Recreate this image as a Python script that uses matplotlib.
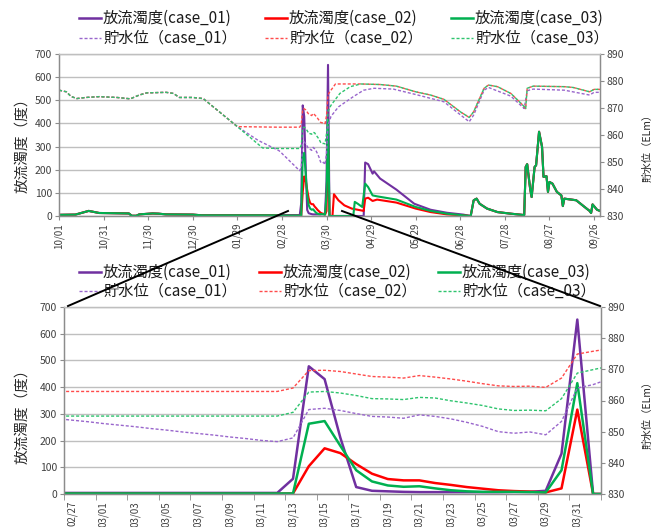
import pandas as pd
import matplotlib
matplotlib.use('Agg')
import matplotlib.pyplot as plt
from matplotlib.lines import Line2D

plt.rcParams['font.family'] = ['Noto Sans CJK JP', 'DejaVu Sans']

W, H = 667, 527
START = pd.Timestamp(2014, 10, 1)

# ---- 放流濁度, 10/01-02/25 (the three cases are practically the same)
early_turb_dates = ['10/01', '10/12', '10/21', '10/28', '11/17', '11/19', '11/22', '11/24',
                    '12/03', '12/07', '12/12', '12/30', '01/05', '02/25']
early_turb = [5, 6, 22, 13, 11, 1, 1, 7, 11, 10, 7, 6, 3, 3]

# ---- 貯水位, common part 10/01-01/29
early_wl_dates = ['10/01', '10/06', '10/09', '10/13', '10/19', '10/28', '11/09', '11/18',
                  '11/24', '11/29', '12/12', '12/17', '12/21', '12/30', '01/06', '01/29']
early_wl = [876.6, 876.0, 874.3, 873.5, 873.9, 874.2, 873.9, 873.4,
            874.8, 875.6, 875.8, 875.4, 873.9, 873.9, 873.5, 863.1]
wl01_early_dates = ['02/12']
wl01_early = [858.0]
wl02_early_dates = ['02/25']
wl02_early = [862.9]
wl03_early_dates = ['02/15', '02/25']
wl03_early = [855.2, 855.0]

# ---- daily values 02/26-04/02 (zoomed panel)
zoom_dates = list(pd.date_range('2015-02-26', '2015-04-02').strftime('%m/%d'))
turb01_zoom = [4, 4, 4, 4, 4, 4, 4, 4, 4, 4, 4, 4, 4, 4, 4,
               57, 478, 430, 210, 26, 12, 10, 8, 7, 7, 7, 7, 7, 7, 8, 8, 12, 151, 653, 0, 0]
turb02_zoom = [1, 1, 1, 1, 1, 1, 1, 1, 1, 1, 1, 1, 1, 1, 1,
               2, 104, 171, 153, 112, 76, 56, 51, 51, 41, 34, 26, 20, 14, 11, 9, 6, 21, 316, 0, 0]
turb03_zoom = [2, 2, 2, 2, 2, 2, 2, 2, 2, 2, 2, 2, 2, 2, 2,
               2, 263, 273, 180, 89, 47, 32, 27, 29, 21, 14, 10, 8, 8, 8, 7, 6, 89, 415, 0, 0]
wl01_zoom = [854.2, 853.7, 853.2, 852.6, 852.1, 851.6, 851.0, 850.5, 849.9, 849.4, 848.9,
             848.3, 847.8, 847.2, 846.8, 848.0, 857.1, 857.5, 856.8, 855.8, 854.9, 854.7,
             854.3, 855.4, 854.9, 854.1, 853.0, 851.7, 850.0, 849.5, 849.9, 849.0, 853.3,
             864.0, 865.1, 866.9]
wl02_zoom = [862.9, 862.9, 862.9, 862.9, 862.9, 862.9, 862.9, 862.9, 862.9, 862.9, 862.9,
             862.9, 862.9, 862.9, 862.9, 864.0, 869.6, 869.7, 869.3, 868.5, 867.7, 867.5,
             867.2, 868.0, 867.5, 866.9, 866.2, 865.4, 864.7, 864.5, 864.6, 864.2, 867.2,
             874.9, 875.8, 876.6]
wl03_zoom = [855.0, 855.0, 855.0, 855.0, 855.0, 855.0, 855.0, 855.0, 855.0, 855.0, 855.0,
             855.0, 855.0, 855.0, 855.0, 856.2, 862.7, 862.9, 862.4, 861.6, 860.6, 860.5,
             860.3, 861.0, 860.8, 859.9, 859.2, 858.4, 857.3, 856.8, 856.9, 856.7, 860.6,
             868.8, 869.9, 871.0]

# ---- 04/03-09/30
turb01_late_dates = ['04/03', '04/24', '04/25', '04/27', '04/30', '05/01', '05/05', '05/16',
                     '05/28', '06/08', '06/19', '06/30', '07/05']
turb01_late = [0, 0, 231, 224, 183, 193, 162, 114, 53, 27, 14, 6, 0]
turb02_late_dates = ['04/03', '04/04', '04/07', '04/11', '04/16', '04/20', '04/24', '04/25',
                     '04/27', '04/30', '05/03', '05/16', '05/29', '06/08', '06/19', '06/30', '07/05']
turb02_late = [0, 94, 68, 46, 32, 27, 22, 75, 79, 65, 71, 58, 32, 17, 7, 3, 0]
turb03_late_dates = ['04/03', '04/17', '04/18', '04/20', '04/23', '04/25', '04/27', '04/30',
                     '05/03', '05/16', '05/29', '06/08', '06/19', '06/30', '07/05']
turb03_late = [0, 0, 61, 53, 39, 140, 125, 89, 85, 71, 39, 22, 10, 3, 0]
shared_late_dates = ['07/07', '07/09', '07/11', '07/16', '07/23', '08/01', '08/10', '08/11',
                     '08/12', '08/14', '08/15', '08/17', '08/18', '08/20', '08/22', '08/23',
                     '08/25', '08/26', '08/27', '08/29', '09/01', '09/04', '09/05', '09/06',
                     '09/14', '09/21', '09/23', '09/24', '09/25', '09/28', '09/30']
shared_late = [68, 75, 53, 32, 17, 10, 4, 212, 224, 118, 82, 212, 219, 364, 299, 169,
               172, 104, 147, 140, 104, 89, 43, 75, 68, 32, 22, 13, 50, 27, 22]

wl01_late_dates = ['04/07', '04/17', '04/24', '05/01', '05/14', '05/29', '06/17', '07/04',
                   '07/07', '07/14', '07/17', '08/01', '08/10', '08/12', '08/16', '09/06',
                   '09/23', '09/26', '09/30']
wl01_late = [870.4, 874.2, 876.6, 877.3, 877.0, 875.0, 872.3, 864.9, 867.4, 876.6, 877.6,
             874.4, 869.8, 876.4, 877.0, 876.6, 874.8, 875.8, 875.8]
wl02_late_dates = ['04/05', '04/19']
wl02_late = [878.9, 878.9]
wl03_late_dates = ['04/08', '04/15']
wl03_late = [875.4, 877.9]
wl_shared_late_dates = ['04/22', '05/05', '05/16', '05/29', '06/08', '06/17', '06/28', '07/04',
                        '07/07', '07/14', '07/17', '07/23', '08/01', '08/09', '08/11', '08/12',
                        '08/16', '09/06', '09/12', '09/23', '09/26', '09/30']
wl_shared_late = [878.9, 878.7, 878.1, 876.0, 874.8, 873.2, 868.6, 866.5, 868.6, 877.3, 878.5,
                  877.9, 875.4, 871.1, 869.8, 877.3, 878.1, 877.9, 877.6, 876.0, 876.9, 876.9]

labels_turb = ['放流濁度(case_01)', '放流濁度(case_02)', '放流濁度(case_03)']
labels_wl = ['貯水位（case_01）', '貯水位（case_02）', '貯水位（case_03）']
solid_colors = ['#7030A0', '#FF0000', '#00B050']
dash_colors = ['#9966CC', '#FF4B4B', '#2EC46E']
DASH = (0, (2.2, 1.4))
GRID = '#BFBFBF'
SPINE = '#8C8C8C'


def days(dates):
    out = []
    for s in dates:
        m, d = int(s[:2]), int(s[3:])
        t = pd.Timestamp(2014 if m >= 10 else 2015, m, d)
        out.append((t - START).days)
    return out


def fx(px):
    return px / W


def fy(py):
    return 1 - py / H


def style(ax, axr):
    ax.set_ylim(0, 700)
    ax.set_yticks(range(0, 701, 100))
    axr.set_ylim(830, 890)
    axr.set_yticks(range(830, 891, 10))
    ax.yaxis.grid(True, color=GRID, lw=1.0)
    ax.set_axisbelow(True)
    for a in (ax, axr):
        for s in a.spines.values():
            s.set_color(SPINE)
            s.set_linewidth(0.9)
        a.spines['top'].set_color(GRID)
        a.tick_params(axis='y', labelsize=7.5, length=3, color=SPINE, pad=2, labelcolor='#404040')
    ax.tick_params(axis='x', labelsize=7, rotation=90, color=SPINE, labelcolor='#404040', pad=2)


fig = plt.figure(figsize=(W / 100, H / 100), dpi=100)

# ---------------- top panel (whole year)
ax1 = fig.add_axes([fx(59), fy(216), fx(541), 162 / H])
ax1r = ax1.twinx()

t_x = [days(early_turb_dates + zoom_dates + turb01_late_dates + shared_late_dates),
       days(early_turb_dates + zoom_dates + turb02_late_dates + shared_late_dates),
       days(early_turb_dates + zoom_dates + turb03_late_dates + shared_late_dates)]
t_y = [early_turb + turb01_zoom + turb01_late + shared_late,
       early_turb + turb02_zoom + turb02_late + shared_late,
       early_turb + turb03_zoom + turb03_late + shared_late]
w_x = [days(early_wl_dates + wl01_early_dates + zoom_dates + wl01_late_dates),
       days(early_wl_dates + wl02_early_dates + zoom_dates + wl02_late_dates + wl_shared_late_dates),
       days(early_wl_dates + wl03_early_dates + zoom_dates + wl03_late_dates + wl_shared_late_dates)]
w_y = [early_wl + wl01_early + wl01_zoom + wl01_late,
       early_wl + wl02_early + wl02_zoom + wl02_late + wl_shared_late,
       early_wl + wl03_early + wl03_zoom + wl03_late + wl_shared_late]

for i in range(3):
    ax1.plot(t_x[i], t_y[i], color=solid_colors[i], lw=1.5)
    ax1r.plot(w_x[i], w_y[i], color=dash_colors[i], lw=1.0, ls=DASH)

style(ax1, ax1r)
ax1.set_xlim(0, 364)
top_ticks = list(range(0, 361, 30))
ax1.set_xticks(top_ticks)
ax1.set_xticklabels([(START + pd.Timedelta(days=d)).strftime('%m/%d') for d in top_ticks])
ax1.tick_params(axis='x', length=3)

# ---------------- bottom panel (02/27-04/01)
ax2 = fig.add_axes([fx(64), fy(494), fx(537), 187 / H])
ax2r = ax2.twinx()
pos = [i - 1 for i in range(len(zoom_dates))]
zoom_turb = [turb01_zoom, turb02_zoom, turb03_zoom]
zoom_wl = [wl01_zoom, wl02_zoom, wl03_zoom]
for i in range(3):
    ax2.plot(pos, zoom_turb[i], color=solid_colors[i], lw=1.8)
    ax2r.plot(pos, zoom_wl[i], color=dash_colors[i], lw=1.0, ls=DASH)

style(ax2, ax2r)
ax2.set_xlim(-0.5, 33.5)
bt = list(range(0, 33, 2))
ax2.set_xticks(bt)
ax2.set_xticklabels([zoom_dates[p + 1] for p in bt])
ax2.tick_params(axis='x', which='major', length=0, pad=5)
ax2.set_xticks([p - 0.5 for p in range(0, 35, 2)], minor=True)
ax2.tick_params(axis='x', which='minor', length=4, color=SPINE)

# axis titles
for yc in (142, 413):
    fig.text(fx(22), fy(yc), '放流濁度（度）', rotation=90, ha='center', va='center',
             fontsize=10.5, color='#262626')
for yc in (145, 412):
    fig.text(fx(648), fy(yc), '貯水位（ELm）', rotation=90, ha='center', va='center',
             fontsize=7.5, color='#262626')

# legends
def legend(cols, rows, llen=22):
    for i in range(3):
        x0 = cols[i]
        for r, (lab, col, ls, lw) in enumerate([(labels_turb[i], solid_colors[i], '-', 1.8),
                                                (labels_wl[i], dash_colors[i], DASH, 1.0)]):
            y = rows[r]
            fig.add_artist(Line2D([fx(x0), fx(x0 + llen)], [fy(y), fy(y)], color=col,
                                  ls=ls, lw=lw, transform=fig.transFigure))
            fig.text(fx(x0 + llen + 2), fy(y), lab, ha='left', va='center',
                     fontsize=11, color='#1a1a1a')


legend([79, 265, 451], [18, 38])
legend([79, 259, 438], [272, 291])

# zoom indicator lines
fig.add_artist(Line2D([fx(288), fx(68)], [fy(211), fy(306)], color='black', lw=1.4,
                      transform=fig.transFigure, zorder=10))
fig.add_artist(Line2D([fx(342), fx(600)], [fy(211), fy(306)], color='black', lw=1.4,
                      transform=fig.transFigure, zorder=10))

fig.savefig('out.png', dpi=100)
